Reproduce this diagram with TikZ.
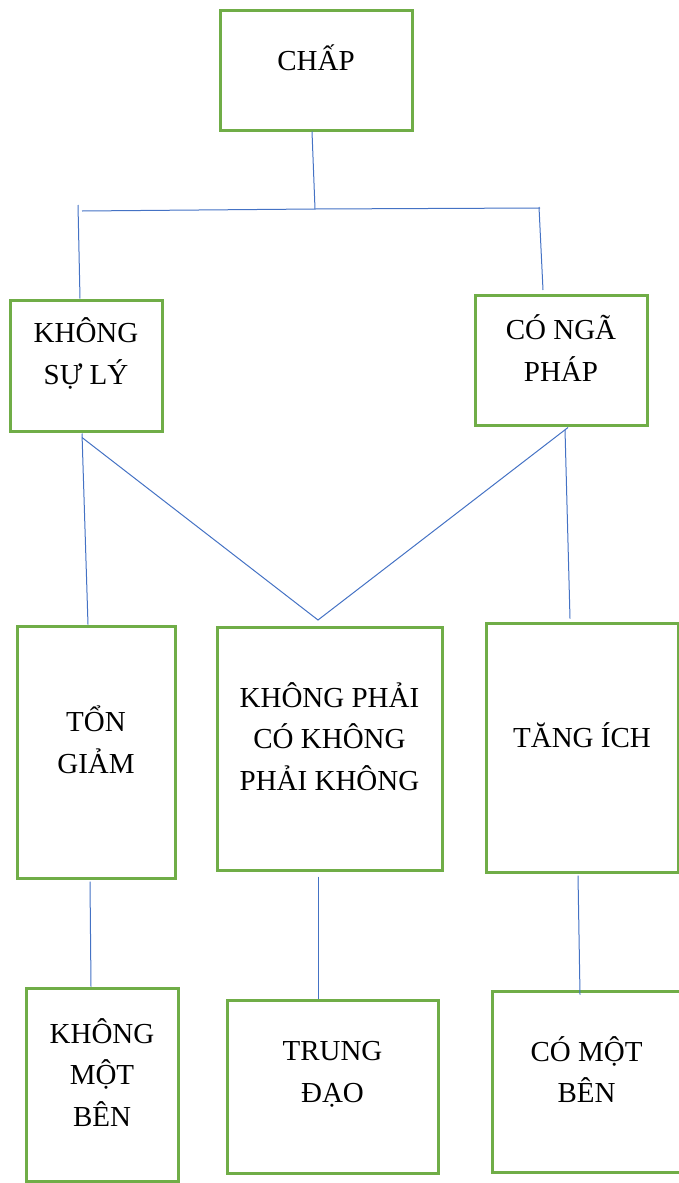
\documentclass[tikz,border=0pt]{standalone}
\usepackage{fontspec}
\setmainfont{Liberation Serif}
\usepackage{tikz}
\usetikzlibrary{calc}
\definecolor{boxgreen}{HTML}{70AD47}
\definecolor{linkblue}{HTML}{4472C4}
\tikzset{
  box/.style={draw=boxgreen, line width=3pt, fill=none, shape=rectangle, inner sep=0pt},
  lbl/.style={draw=none, align=center, inner sep=0pt, font=\fontsize{29}{41.5}\selectfont},
  link/.style={draw=linkblue, line width=1pt}
}
\newcommand{\greenbox}[6]{\node[box, minimum width=#3pt, minimum height=#4pt] (#5) at ( #1 , #2 ) {};
  \node[lbl] (#5-t) at ($(#5.center)+(0,-12)$) {#6};}

\begin{document}
\begin{tikzpicture}[x=1pt,y=-1pt]
        \useasboundingbox (0,0) rectangle (679,1183);
        % top
        \greenbox{316}{70}{192}{120}{chap}{CHẤP}
        % level 2
        \greenbox{86}{365.5}{152}{131}{khongsu}{KHÔNG\\SỰ LÝ}
        \greenbox{561}{360}{172}{130}{coga}{CÓ NGÃ\\PHÁP}
        % level 3
        \greenbox{96}{752}{158}{252}{tongiam}{TỔN\\GIẢM}
        \greenbox{329.5}{748.5}{225}{243}{phai}{KHÔNG PHẢI\\CÓ KHÔNG\\PHẢI KHÔNG}
        \greenbox{582}{747.5}{192}{249}{tangich}{TĂNG ÍCH}
        % level 4
        \greenbox{102}{1084.5}{152}{193}{khongmot}{KHÔNG\\MỘT\\BÊN}
        \greenbox{332.5}{1086.5}{211}{173}{trungdao}{TRUNG\\ĐẠO}
        % last box runs past the right edge
        \node[box, minimum width=200pt, minimum height=181pt] (comot) at (592,1081.5) {};
        \node[lbl] (comot-t) at (586.5,1069.5) {CÓ MỘT\\BÊN};

        % free ends
        \coordinate (jtop) at (315,209);
        \coordinate (barl) at (82,211);
        \coordinate (barr) at (540,208);
        \coordinate (lft) at (78,205);
        \coordinate (rgt) at (539,207);
        \coordinate (rgte) at (543,290);
        \coordinate (vtip) at (318,620);

        % links top
        \draw[link] ($(chap.south)+(-4,0)$) -- (jtop);
        \draw[link] (barl) -- (jtop) -- (barr);
        \draw[link] (lft) -- ($(khongsu.north)+(-6,0)$);
        \draw[link] (rgt) -- (rgte);
        % links middle
        \draw[link] ($(khongsu.south)+(-4,1)$) -- ($(tongiam.north)+(-8,0)$);
        \draw[link] ($(khongsu.south)+(-4,5)$) -- (vtip) -- ($(coga.south)+(7,1)$);
        \draw[link] ($(coga.south)+(4,3)$) -- ($(tangich.north)+(-12,-3)$);
        % links bottom
        \draw[link] ($(tongiam.south)+(-6,2)$) -- ($(khongmot.north)+(-11,0)$);
        \draw[link] ($(phai.south)+(-11.5,5)$) -- ($(trungdao.north)+(-14.5,0)$);
        \draw[link] ($(tangich.south)+(-4,2)$) -- ($(comot.north)+(-12,5)$);
\end{tikzpicture}
\end{document}
